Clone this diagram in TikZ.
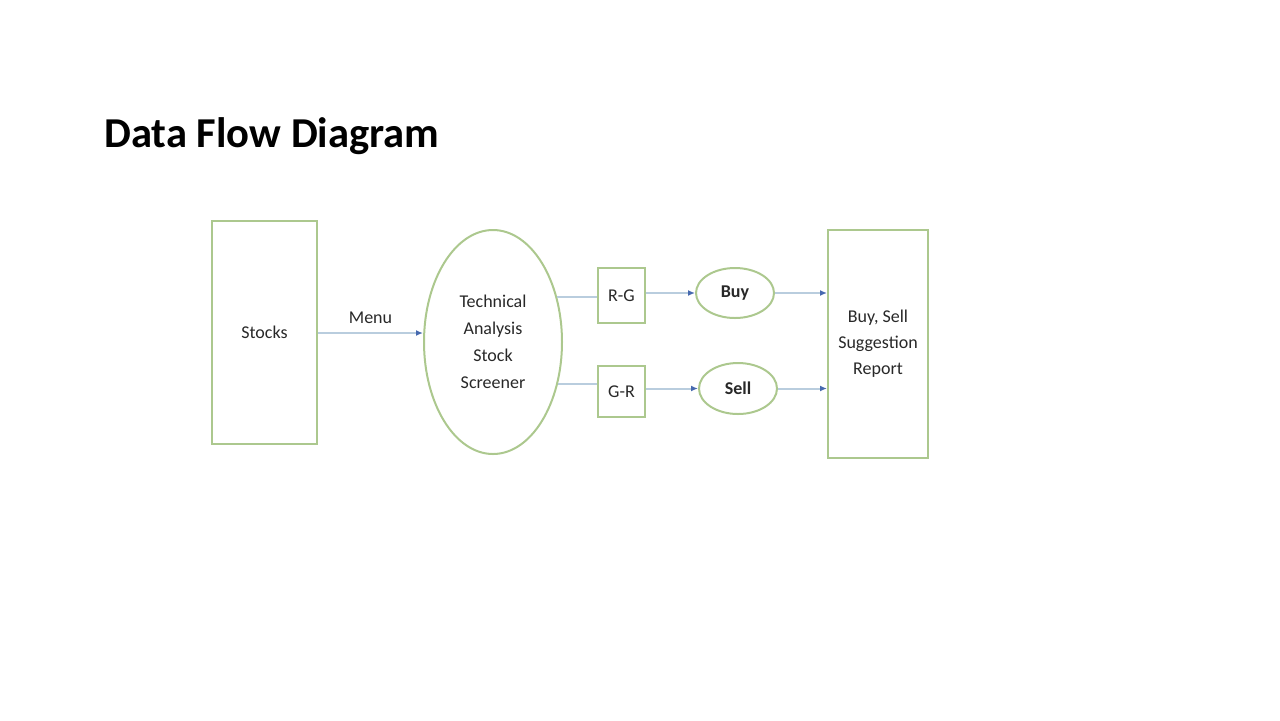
\documentclass[tikz,border=0pt]{standalone}
\usepackage{fontspec}
\setmainfont{Carlito}
\usetikzlibrary{shapes.geometric,arrows.meta}
\definecolor{boxgreen}{RGB}{172,200,142}
\definecolor{lineblue}{RGB}{185,205,222}
\definecolor{tipblue}{RGB}{70,105,175}
\definecolor{txt}{RGB}{40,40,40}
\tikzset{
  box/.style={draw=boxgreen, line width=1pt, rectangle, inner sep=0pt, text=txt, font=\fontsize{9}{13}\selectfont, align=center},
  oval/.style={draw=boxgreen, line width=1pt, ellipse, inner sep=0pt, text=txt, align=center},
  flow/.style={draw=lineblue, line width=1pt, -{Latex[length=3.5pt,width=3pt,color=tipblue]}},
  plain/.style={draw=lineblue, line width=1pt}
}
\begin{document}
\begin{tikzpicture}[x=0.5pt,y=-0.5pt]
\useasboundingbox (0,0) rectangle (1280,720);
\node[anchor=base west, inner sep=0pt, font=\fontsize{21.3}{24}\selectfont\bfseries] (title) at (104,147) {Data Flow Diagram};
\node[box, minimum width=52.5pt, minimum height=111.5pt] (stocks) at (264.5,332.5) {Stocks};
\node[oval, minimum width=69pt, minimum height=112pt, font=\fontsize{9}{13.5}\selectfont] (tas) at (493,342) {Technical\\Analysis\\Stock\\Screener};
\node[box, minimum width=23.5pt, minimum height=27.5pt] (rg) at (621.5,295.5) {R-G};
\node[box, minimum width=23.5pt, minimum height=25.5pt] (gr) at (621.5,391.5) {G-R};
\node[oval, minimum width=39pt, minimum height=25pt, font=\fontsize{9}{11}\selectfont\bfseries] (buy) at (735,293) {Buy};
\node[oval, minimum width=39pt, minimum height=25.5pt, font=\fontsize{9}{11}\selectfont\bfseries] (sell) at (738,388.5) {Sell};
\node[box, minimum width=50pt, minimum height=114pt, font=\fontsize{9}{13}\selectfont] (rep) at (878,344) {Buy, Sell\\Suggestion\\Report};
\draw[flow] (stocks.east |- 0,333) coordinate (m0) -- (m0 -| tas.west) node[midway, above=1pt, text=txt, font=\fontsize{9}{11}\selectfont] (menu) {Menu};
\draw[plain] (tas.35) -- (tas.35 -| rg.west);
\draw[plain] (tas.-33) -- (tas.-33 -| gr.west);
\draw[flow] (rg.east |- buy.west) -- (buy.west);
\draw[flow] (gr.east |- sell.west) -- (sell.west);
\draw[flow] (buy.east) -- (buy.east -| rep.west);
\draw[flow] (sell.east) -- (sell.east -| rep.west);
\end{tikzpicture}
\end{document}
